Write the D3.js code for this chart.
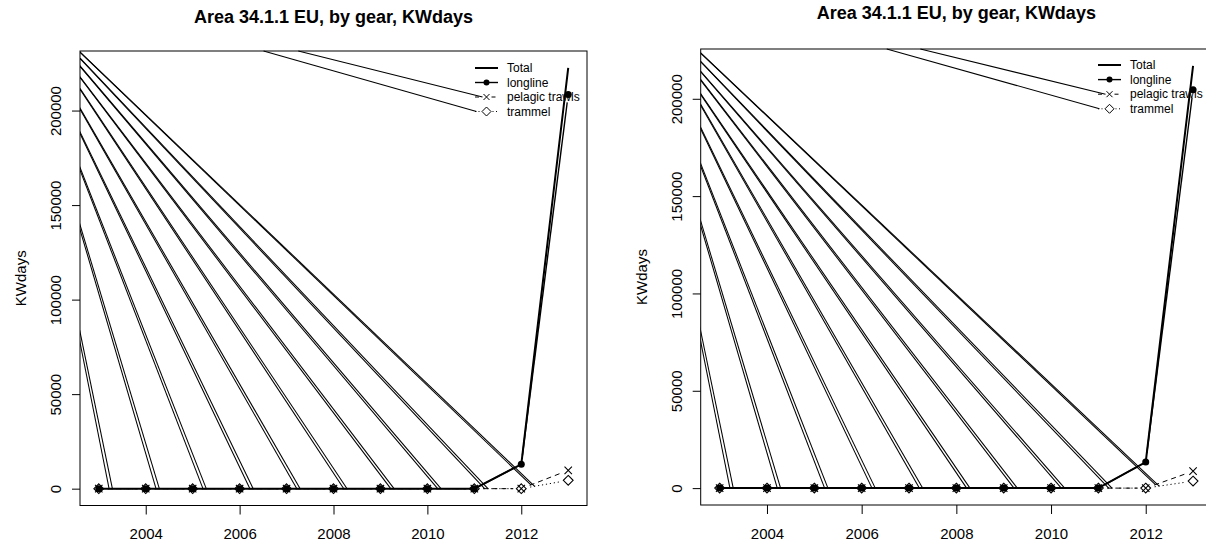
<!DOCTYPE html>
<html><head><meta charset="utf-8">
<script src="https://cdn.jsdelivr.net/npm/d3@7"></script>
<style>body{margin:0;background:#fff} svg{display:block;font-family:"Liberation Sans",Arial,sans-serif}</style>
</head><body><svg id="c" width="1206" height="546"></svg>
<script>
// ---------- data ----------
const years = [2003,2004,2005,2006,2007,2008,2009,2010,2011,2012,2013];
const totalA    = [0,0,0,0,0,0,0,0,0,12900,222600];
const longlineA = [0,0,0,0,0,0,0,0,0,12900,208500];
const pelagicA  = [0,0,0,0,0,0,0,0,0,0,9700];
const trammelA  = [0,0,0,0,0,0,0,0,0,0,4400];
const totalB    = [0,0,0,0,0,0,0,0,0,13400,216900];
const longlineB = [0,0,0,0,0,0,0,0,0,13400,204600];
const pelagicB  = [0,0,0,0,0,0,0,0,0,0,8700];
const trammelB  = [0,0,0,0,0,0,0,0,0,0,3600];
// stray-line artefact: KWdays where each pair crosses the left axis limit
const strayFromA = [80200,138300,169200,188300,201000,211500,217700,223500,227700,230900];
const strayFromB = [78000,136000,166000,184900,196900,202400,209700,214000,219100,223500];
const strayApexYear = 2001.4;   // where each pair of stray lines meets (off-chart)
// stray lines to legend: year where they enter at the top axis limit
const legendStrayA = [2007.25,2006.51];
const legendStrayB = [2007.24,2006.53];
const xTicks = [2004,2006,2008,2010,2012];
const yTicks = [0,50000,100000,150000,200000];
const seriesNames = ["Total","longline","pelagic trawls","trammel"];
const titleText = "Area 34.1.1 EU, by gear, KWdays";
const yLabel = "KWdays";

// ---------- layout ----------
const panels = [
  {id:"A", x0:80, x1:587, y0:51, y1:505.5, titleY:23.3, lgX:475, lgY:68, lgDy:14.5,
   total:totalA, longline:longlineA, pelagic:pelagicA, trammel:trammelA, stray:strayFromA, lstray:legendStrayA},
  {id:"B", x0:700.7, x1:1212, y0:49, y1:505, titleY:19, lgX:1098, lgY:65, lgDy:14.6,
   total:totalB, longline:longlineB, pelagic:pelagicB, trammel:trammelB, stray:strayFromB, lstray:legendStrayB}
];

const svg = d3.select("#c");
const defs = svg.append("defs");

panels.forEach(P => {
  const xr = d3.extent(years), xpad = (xr[1]-xr[0])*0.04;
  const ymax = d3.max(P.total);
  const x = d3.scaleLinear().domain([xr[0]-xpad, xr[1]+xpad]).range([P.x0, P.x1]);
  const y = d3.scaleLinear().domain([-0.04*ymax, 1.04*ymax]).range([P.y1, P.y0]);
  const g = svg.append("g");

  defs.append("clipPath").attr("id","clip"+P.id).append("rect")
    .attr("x",P.x0).attr("y",P.y0).attr("width",P.x1-P.x0).attr("height",P.y1-P.y0);

  // title
  g.append("text").attr("x",(P.x0+P.x1)/2).attr("y",P.titleY).attr("text-anchor","middle")
    .attr("font-size",18).attr("font-weight","bold").text(titleText);

  // axes
  const xAxis = d3.axisBottom(x).tickValues(xTicks).tickFormat(d3.format("d")).tickSize(9).tickPadding(14);
  const ga = g.append("g").attr("transform",`translate(0,${P.y1})`).call(xAxis);
  ga.select(".domain").remove();
  ga.selectAll("text").attr("font-size",15).attr("font-family","Liberation Sans, Arial, sans-serif");
  const yAxis = d3.axisLeft(y).tickValues(yTicks).tickFormat(d3.format("d")).tickSize(8);
  const gy = g.append("g").attr("transform",`translate(${P.x0},0)`).call(yAxis);
  gy.select(".domain").remove();
  gy.selectAll("text").attr("font-size",15).attr("font-family","Liberation Sans, Arial, sans-serif")
    .attr("text-anchor","middle").attr("dy",null).attr("x",null)
    .attr("transform",`translate(-19,0) rotate(-90)`);

  g.append("text").attr("transform",`translate(${P.x0-54},${(P.y0+P.y1)/2}) rotate(-90)`)
    .attr("text-anchor","middle").attr("font-size",15).text(yLabel);

  const plot = g.append("g").attr("clip-path",`url(#clip${P.id})`);
  const pt = (vals,i) => [x(years[i]), y(vals[i])];

  // segment start points of a "type b" series
  const segStart = (vals,i,gap) => {
    const a = pt(vals,i), b = pt(vals,i+1);
    const dx=b[0]-a[0], dy=b[1]-a[1], L=Math.hypot(dx,dy);
    return [a[0]+dx/L*gap, a[1]+dy/L*gap];
  };

  // stray artefact lines (pairs meeting at an off-chart apex)
  P.stray.forEach((v,i) => {
    const ends = [segStart(P.pelagic,i,10.3), segStart(P.trammel,i,13.6)];
    const mid = [(ends[0][0]+ends[1][0])/2, (ends[0][1]+ends[1][1])/2];
    const cross = [x.range()[0], y(v)];
    const ax = x(strayApexYear);
    const t = (ax-mid[0])/(cross[0]-mid[0]);
    const apex = [ax, mid[1] + (cross[1]-mid[1])*t];
    ends.forEach(to => {
      plot.append("line").attr("x1",apex[0]).attr("y1",apex[1]).attr("x2",to[0]).attr("y2",to[1])
        .attr("stroke","#000").attr("stroke-width",1.05);
    });
  });

  // Total (type l)
  const line = d3.line().x((d,i)=>x(years[i])).y(d=>y(d));
  plot.append("path").attr("d",line(P.total)).attr("fill","none").attr("stroke","#000").attr("stroke-width",2);

  // type-b series
  const typeB = (vals, dash, w) => {
    for (let i=0;i<vals.length-1;i++){
      const a = pt(vals,i), b = pt(vals,i+1);
      const dx=b[0]-a[0], dy=b[1]-a[1], L=Math.hypot(dx,dy);
      const g1=9, g2=8;
      if (L<g1+g2) continue;
      plot.append("line").attr("x1",a[0]+dx/L*g1).attr("y1",a[1]+dy/L*g1)
        .attr("x2",b[0]-dx/L*g2).attr("y2",b[1]-dy/L*g2)
        .attr("stroke","#000").attr("stroke-width",w).attr("stroke-dasharray",dash);
    }
  };
  typeB(P.longline, null, 1.4);
  typeB(P.pelagic, "5,4", 1);
  typeB(P.trammel, "1.2,2.8", 1);

  // markers
  const dot = (sel,cx,cy) => sel.append("circle").attr("cx",cx).attr("cy",cy).attr("r",3.5).attr("fill","#000");
  const cross = (sel,cx,cy) => sel.append("path").attr("d",`M${cx-3.7},${cy-3.7}L${cx+3.7},${cy+3.7}M${cx-3.7},${cy+3.7}L${cx+3.7},${cy-3.7}`)
      .attr("stroke","#000").attr("stroke-width",1.1).attr("fill","none");
  const diamond = (sel,cx,cy) => sel.append("path").attr("d",`M${cx},${cy-4.9}L${cx+4.9},${cy}L${cx},${cy+4.9}L${cx-4.9},${cy}Z`)
      .attr("stroke","#000").attr("stroke-width",1.1).attr("fill","none");
  years.forEach((yr,i) => {
    dot(plot, ...pt(P.longline,i));
    cross(plot, ...pt(P.pelagic,i));
    diamond(plot, ...pt(P.trammel,i));
  });

  // legend
  const lg = g.append("g");
  const sx = P.lgX, ex = P.lgX+23, cx = P.lgX+11.5;
  seriesNames.forEach((name,i) => {
    const ry = P.lgY + i*P.lgDy;
    lg.append("text").attr("x",P.lgX+32).attr("y",ry).attr("dominant-baseline","central")
      .attr("font-size",12).text(name);
    if (i===0) {
      lg.append("line").attr("x1",sx).attr("x2",ex).attr("y1",ry).attr("y2",ry).attr("stroke","#000").attr("stroke-width",2);
    } else if (i===1) {
      lg.append("line").attr("x1",sx).attr("x2",ex).attr("y1",ry).attr("y2",ry).attr("stroke","#000").attr("stroke-width",1.4);
      lg.append("circle").attr("cx",cx).attr("cy",ry).attr("r",3).attr("fill","#000");
    } else if (i===2) {
      lg.append("line").attr("x1",sx).attr("x2",cx-5).attr("y1",ry).attr("y2",ry).attr("stroke","#000").attr("stroke-dasharray","4,3");
      lg.append("line").attr("x1",cx+5).attr("x2",ex).attr("y1",ry).attr("y2",ry).attr("stroke","#000").attr("stroke-dasharray","4,3");
      lg.append("path").attr("d",`M${cx-3},${ry-3}L${cx+3},${ry+3}M${cx-3},${ry+3}L${cx+3},${ry-3}`).attr("stroke","#000").attr("fill","none");
    } else {
      lg.append("line").attr("x1",sx).attr("x2",cx-6).attr("y1",ry).attr("y2",ry).attr("stroke","#000").attr("stroke-dasharray","1,2.5");
      lg.append("line").attr("x1",cx+6).attr("x2",ex).attr("y1",ry).attr("y2",ry).attr("stroke","#000").attr("stroke-dasharray","1,2.5");
      lg.append("path").attr("d",`M${cx},${ry-4.5}L${cx+4.5},${ry}L${cx},${ry+4.5}L${cx-4.5},${ry}Z`).attr("stroke","#000").attr("fill","none");
    }
  });
  // stray lines reaching the legend samples
  const lEnds = [[cx-4, P.lgY+2*P.lgDy],[P.lgX+1.5, P.lgY+3*P.lgDy]];
  P.lstray.forEach((yr,k) => {
    g.append("line").attr("x1",x(yr)).attr("y1",y.range()[1]).attr("x2",lEnds[k][0]).attr("y2",lEnds[k][1])
      .attr("stroke","#000").attr("stroke-width",1.05);
  });

  // box
  g.append("rect").attr("x",P.x0).attr("y",P.y0).attr("width",P.x1-P.x0).attr("height",P.y1-P.y0)
    .attr("fill","none").attr("stroke","#000").attr("stroke-width",1);
});
</script></body></html>
